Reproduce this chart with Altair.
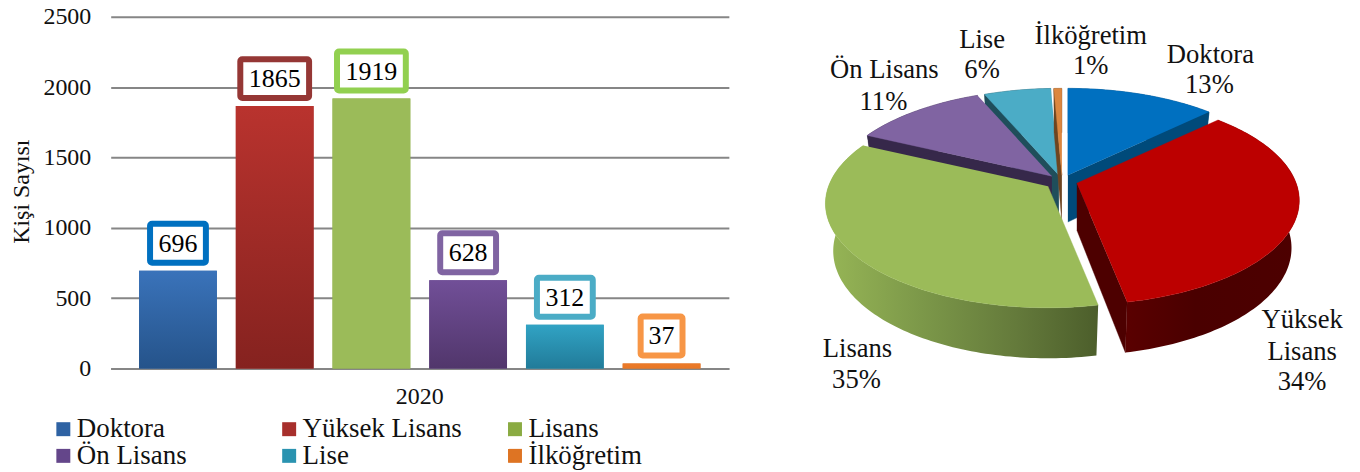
import math
import altair as alt
import pandas as pd

FONT = "Liberation Serif"

levels = ["Doktora", "Yüksek Lisans", "Lisans", "Ön Lisans", "Lise", "İlköğretim"]
counts = [696, 1865, 1919, 628, 312, 37]
years = ["2020"] * 6
pct_labels = [13, 34, 35, 11, 6, 1]

legend_order = ["Doktora", "Ön Lisans", "Yüksek Lisans", "Lise", "Lisans", "İlköğretim"]
legend_colors = ["#2E62A3", "#64468A", "#A72F2C", "#2A93B0", "#8AAB42", "#DE7423"]
grad_top = ["#3A73BA", "#B9332E", "#9BBB59", "#714F98", "#31A3C4", "#EB7A2A"]
grad_bot = ["#25538A", "#85221F", "#9BBB59", "#51366B", "#217B99", "#E87725"]
box_colors = ["#0070C0", "#953735", "#92D050", "#8064A2", "#4BACC6", "#F79646"]
box_widths = [56, 69, 69, 56, 56, 42]

pie_top = ["#0070C0", "#BC0000", "#9BBB59", "#8064A2", "#4BACC6", "#DC873F"]
pie_wall = ["#004A7A", "#4D0000", "#4F612C", "#36284A", "#1F4E5B", "#6E4520"]
pie_apex = [(1067, 175), (1076, 183), (1047, 186), (1051, 176), (1058, 175), (1061, 175)]

label_lines = [
    ("Doktora", 1210, 54), ("13%", 1209, 85),
    ("İlköğretim", 1090, 35), ("1%", 1090, 66),
    ("Lise", 981, 39), ("6%", 981, 70),
    ("Ön Lisans", 883, 70), ("11%", 882, 102),
    ("Lisans", 856, 349), ("35%", 855, 380),
    ("Yüksek", 1302, 320), ("Lisans", 1302, 352), ("34%", 1302, 382),
]

df = pd.DataFrame({
    "level": levels, "count": counts, "year": years,
    "boxc": box_colors, "boxw": box_widths,
})

# ---------- bar panel ----------
x = alt.X("year:N", title=None,
          scale=alt.Scale(paddingInner=0, paddingOuter=0.0326),
          axis=alt.Axis(labelAngle=0, labelFontSize=24, labelFont=FONT, labelColor="#111111",
                        labelPadding=16, ticks=False, domainColor="#868686", domainWidth=2))
xo = alt.XOffset("level:N", scale=alt.Scale(domain=levels, paddingInner=0.196, paddingOuter=0.098))
y = alt.Y("count:Q", title="Kişi Sayısı",
          scale=alt.Scale(domain=[0, 2500], nice=False),
          axis=alt.Axis(values=[0, 500, 1000, 1500, 2000, 2500], format="d",
                        labelFontSize=24, labelFont=FONT,
                        labelColor="#111111", labelPadding=20, ticks=False, domain=False,
                        grid=True, gridColor="#868686", gridWidth=2,
                        titleFont=FONT, titleFontSize=24, titleFontWeight="normal",
                        titleColor="#111111", titlePadding=9, titleY=175))

base = alt.Chart(df).mark_bar().encode(
    x=x, xOffset=xo, y=y,
    fill=alt.Fill("level:N", scale=alt.Scale(domain=legend_order, range=legend_colors),
                  legend=alt.Legend(title=None, orient="none", legendX=-61, legendY=400, columns=3,
                                    gridAlign="all", columnPadding=39.5, rowPadding=-3,
                                    symbolType="square", symbolSize=196, symbolStrokeWidth=0,
                                    labelFont=FONT, labelFontSize=27, labelColor="#111111",
                                    labelOffset=0, labelLimit=300)),
)
bar_layers = [base]
for i, lv in enumerate(levels):
    grad = alt.LinearGradient(gradient="linear", x1=0, x2=0, y1=0, y2=1,
                              stops=[alt.GradientStop(offset=0, color=grad_top[i]),
                                     alt.GradientStop(offset=1, color=grad_bot[i])])
    bar_layers.append(alt.Chart(df[df.level == lv]).mark_bar(fill=grad).encode(x=x, xOffset=xo, y=y))

boxes = alt.Chart(df).mark_tick(thickness=39, fill="white", strokeWidth=6, yOffset=-27.5,
                                cornerRadius=2, opacity=1, fillOpacity=1).encode(
    x=x, xOffset=xo, y=y,
    stroke=alt.Stroke("boxc:N", scale=None),
    size=alt.Size("boxw:Q", scale=None),
)
nums = alt.Chart(df).mark_text(font=FONT, fontSize=26, color="#000000", yOffset=-27).encode(
    x=x, xOffset=xo, y=y, text="count:Q")
left = alt.layer(*bar_layers, boxes, nums).properties(width=620, height=353)

# ---------- 3D pie panel ----------
K, B, A = 0.167, 101.6, 220.0
BOT_X, BOT_Y, DEPTH = 0.965, 1.03, 47.0
PX0, PX1, PY0, PY1 = 790, 1352, 16, 472
xs = alt.X("x:Q", axis=None, scale=alt.Scale(domain=[PX0, PX1], nice=False, zero=False))
ys = alt.Y("y:Q", axis=None, scale=alt.Scale(domain=[PY1, PY0], nice=False, zero=False))


def rim_xy(theta):
    u, v = math.sin(theta), math.cos(theta)
    d = 1 + K * v
    return A * u / d, -B * v / d


def lower(p):
    return p[0] * BOT_X, p[1] * BOT_Y + DEPTH


def poly(points, fill_value):
    data = pd.DataFrame({"x": [p[0] for p in points], "y": [p[1] for p in points],
                         "i": list(range(len(points)))})
    solid = isinstance(fill_value, str)
    return alt.Chart(data).mark_line(fill=fill_value, stroke=fill_value if solid else "#4D0000",
                                     strokeWidth=0.4, strokeOpacity=1 if solid else 0,
                                     interpolate="linear").encode(
        x=xs, y=ys, order=alt.Order("i:Q"))


total = sum(counts)
angles = [0.0]
for c in counts:
    angles.append(angles[-1] + 2 * math.pi * c / total)

slices = {}
for i in range(6):
    ax, ay = pie_apex[i]
    t0, t1 = angles[i], angles[i + 1]
    n = max(4, int((t1 - t0) / 0.02))
    arc = [rim_xy(t0 + (t1 - t0) * k / n) for k in range(n + 1)]
    top = [(ax, ay)] + [(ax + p[0], ay + p[1]) for p in arc]
    low = [lower(p) for p in arc]
    rim = [(ax + p[0], ay + p[1]) for p in arc] + [(ax + p[0], ay + p[1]) for p in reversed(low)]
    edge = arc[-1] if (t0 + t1) / 2 < math.pi else arc[0]
    eb = lower(edge)
    wall = [(ax, ay), (ax + edge[0], ay + edge[1]), (ax + eb[0], ay + eb[1]), (ax, ay + DEPTH)]
    slices[i] = (top, rim, wall)

green_rim = alt.LinearGradient(gradient="linear", x1=0, x2=1, y1=0, y2=0, stops=[
    alt.GradientStop(offset=0, color="#97B656"), alt.GradientStop(offset=0.35, color="#7C9849"),
    alt.GradientStop(offset=0.7, color="#647A3B"), alt.GradientStop(offset=1, color="#4C5E2B")])
red_rim = alt.LinearGradient(gradient="linear", x1=0, x2=1, y1=0, y2=0, stops=[
    alt.GradientStop(offset=0, color="#5A0000"), alt.GradientStop(offset=0.4, color="#4A0000"),
    alt.GradientStop(offset=1, color="#4D0000")])

pie_layers = []
for i in [4, 5, 0, 3, 2, 1]:
    top, rim, wall = slices[i]
    rim_fill = green_rim if i == 2 else red_rim if i == 1 else pie_wall[i]
    if i != 2:
        pie_layers.append(poly(wall, pie_wall[i]))
    pie_layers.append(poly(rim, rim_fill))
    pie_layers.append(poly(top, pie_top[i]))

labels_df = pd.DataFrame(label_lines, columns=["text", "x", "y"])
pie_text = alt.Chart(labels_df).mark_text(font=FONT, fontSize=26.7, color="#111111").encode(
    x=xs, y=ys, text="text:N")
right = alt.layer(*pie_layers, pie_text).properties(width=PX1 - PX0, height=PY1 - PY0)

chart = alt.hconcat(left, right, spacing=63, padding={"left": 2, "right": 0, "top": -4, "bottom": 0}).configure_view(
    stroke=None).resolve_scale(x="independent", y="independent", fill="independent")
chart.save("out.html", embed_options={"renderer": "svg", "actions": False})
